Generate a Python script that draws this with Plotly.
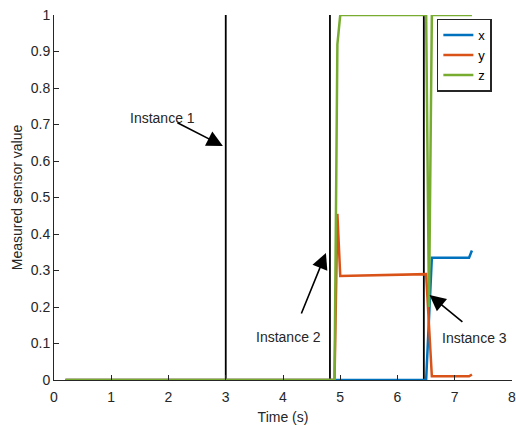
import plotly.graph_objects as go

# ---- data ----
t_x = [0.2, 6.5, 6.6, 7.25, 7.3]
val_x = [0.0, 0.0, 0.335, 0.335, 0.355]

t_y = [0.2, 4.9, 4.95, 5.0, 6.5, 6.6, 7.25, 7.3]
val_y = [0.0, 0.0, 0.455, 0.285, 0.29, 0.01, 0.01, 0.015]

t_z = [0.2, 4.9, 4.95, 5.0, 6.5, 6.55, 6.6, 7.3]
val_z = [0.0, 0.0, 0.92, 1.0, 1.0, 0.2, 1.0, 1.0]

event_times = [3.0, 4.82, 6.46]

instance_labels = ["Instance 1", "Instance 2", "Instance 3"]
label_pos = [(1.90, 0.718), (4.10, 0.118), (7.34, 0.115)]
arrow_tail = [(2.13, 0.707), (4.31, 0.178), (7.16, 0.156)]
arrow_head = [(2.95, 0.641), (4.75, 0.348), (6.56, 0.233)]

x_ticks = [0, 1, 2, 3, 4, 5, 6, 7, 8]
y_ticks = [0, 0.1, 0.2, 0.3, 0.4, 0.5, 0.6, 0.7, 0.8, 0.9, 1]

FONT = "Liberation Sans, Arial, Helvetica, sans-serif"
AX = "#262626"
FS = 14

fig = go.Figure()

ev_x, ev_y = [], []
for t in event_times:
    ev_x += [t, t, None]
    ev_y += [0, 1, None]
fig.add_trace(go.Scatter(x=ev_x, y=ev_y, mode="lines",
                         line=dict(color="black", width=1.8),
                         showlegend=False, hoverinfo="skip"))

fig.add_trace(go.Scatter(x=t_x, y=val_x, mode="lines", name="x",
                         line=dict(color="#0072BD", width=2.5)))
fig.add_trace(go.Scatter(x=t_y, y=val_y, mode="lines", name="y",
                         line=dict(color="#D95319", width=2.5)))
fig.add_trace(go.Scatter(x=t_z, y=val_z, mode="lines", name="z",
                         line=dict(color="#77AC30", width=2.5)))

annotations = []
for lab, (lx, ly) in zip(instance_labels, label_pos):
    annotations.append(dict(x=lx, y=ly, xref="x", yref="y", text=lab,
                            showarrow=False,
                            font=dict(family=FONT, size=FS, color="#262626")))
for (tx, ty), (hx, hy) in zip(arrow_tail, arrow_head):
    annotations.append(dict(x=hx, y=hy, ax=tx, ay=ty, xref="x", yref="y",
                            axref="x", ayref="y", text="", showarrow=True,
                            arrowhead=2, arrowsize=2.0, arrowwidth=1.6,
                            arrowcolor="black", standoff=0, startstandoff=0))

fig.update_layout(
    width=516, height=425,
    margin=dict(l=54, r=4, t=15, b=45),
    paper_bgcolor="white", plot_bgcolor="white",
    font=dict(family=FONT, size=FS, color=AX),
    annotations=annotations,
    showlegend=True,
    hovermode=False,
    legend=dict(x=0.956, y=0.99, xanchor="right", yanchor="top",
                bgcolor="white", bordercolor="#262626", borderwidth=1.5,
                font=dict(family=FONT, size=13, color="black"),
                tracegroupgap=0, itemwidth=30),
    xaxis=dict(range=[0, 8], tickvals=x_ticks, ticks="inside", ticklen=5,
               tickcolor=AX, showline=True, linecolor=AX, linewidth=1,
               showgrid=False, zeroline=False, automargin=False,
               ticklabeloverflow="allow", ticklabelstandoff=4,
               title=dict(text="Time (s)", standoff=8,
                          font=dict(family=FONT, size=FS, color=AX)),
               tickfont=dict(family=FONT, size=FS, color=AX)),
    yaxis=dict(range=[0, 1], tickvals=y_ticks, ticktext=[("%g" % v) for v in y_ticks],
               ticks="inside", ticklen=5,
               tickcolor=AX, showline=True, linecolor=AX, linewidth=1,
               showgrid=False, zeroline=False, automargin=False,
               ticklabeloverflow="allow",
               title=dict(text="Measured sensor value", standoff=4,
                          font=dict(family=FONT, size=FS, color=AX)),
               tickfont=dict(family=FONT, size=FS, color=AX)),
)

# remove the browser's default 8px body margin so the figure fills the window
fig.write_html("out.html",
               config={"displayModeBar": False, "staticPlot": True},
               post_script="document.body.style.margin='0';document.body.style.overflow='hidden';")
